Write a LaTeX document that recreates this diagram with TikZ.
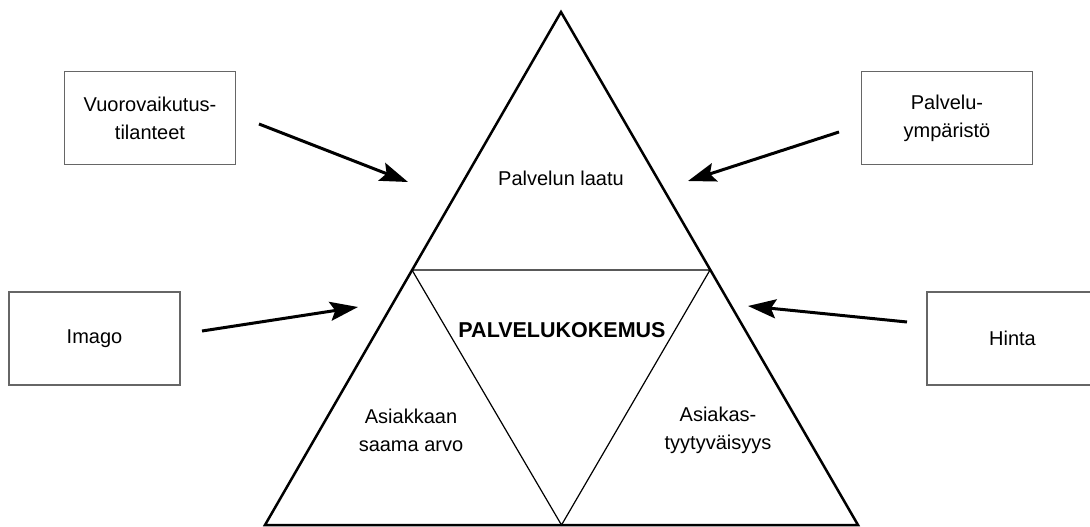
\documentclass[tikz,border=0pt]{standalone}
\usepackage{fontspec}
\setmainfont{Liberation Sans}
\usetikzlibrary{arrows.meta}
\begin{document}
\begin{tikzpicture}[x=1pt,y=-1pt,
	box/.style={rectangle, draw=black!60, line width=1.3pt, minimum width=171pt, minimum height=93pt, align=center, font=\fontsize{20}{28}\selectfont},
	lbl/.style={align=center, font=\fontsize{20}{28}\selectfont},
	push/.style={-{Stealth[length=28pt,width=19pt,inset=5pt]}, line width=3pt}]
		\useasboundingbox (0,0) rectangle (1090,527);
		% pyramid
		\coordinate (top) at (561,12);
		\coordinate (bl) at (265,525);
		\coordinate (br) at (858,525);
		\coordinate (ml) at (412,270);
		\coordinate (mr) at (710,270);
		\coordinate (mb) at (561.5,525);
		\draw[line width=2.5pt] (top) -- (br) -- (bl) -- cycle;
		\draw[line width=1.2pt] (ml) -- (mr) -- (mb) -- cycle;

		\node[lbl] (laatu) at (561,178) {Palvelun laatu};
		\node[lbl, font=\fontsize{21.5}{28}\selectfont\bfseries] (kokemus) at (562,330) {PALVELUKOKEMUS};
		\node[lbl] (arvo) at (411,430) {Asiakkaan\\saama arvo};
		\node[lbl] (tyyt) at (718,430) {Asiakas-\\tyytyväisyys};

		% factors
		\node[box] (vuoro) at (150,118) {Vuorovaikutus-\\tilanteet};
		\node[box] (ymparisto) at (947,118) {Palvelu-\\ympäristö};
		\node[box] (imago) at (94.5,338.5) {Imago};
		\node[box] (hinta) at (1012.5,338.5) {Hinta};

		\coordinate (vuoroA) at (259,124);
		\coordinate (vuoroB) at (408,182);
		\coordinate (ympA) at (839,132);
		\coordinate (ympB) at (688,181);
		\coordinate (imagoA) at (202,331);
		\coordinate (imagoB) at (358,307);
		\coordinate (hintaA) at (907,322);
		\coordinate (hintaB) at (748,306);
		\draw[push] (vuoroA) -- (vuoroB);
		\draw[push] (ympA) -- (ympB);
		\draw[push] (imagoA) -- (imagoB);
		\draw[push] (hintaA) -- (hintaB);
\end{tikzpicture}
\end{document}
